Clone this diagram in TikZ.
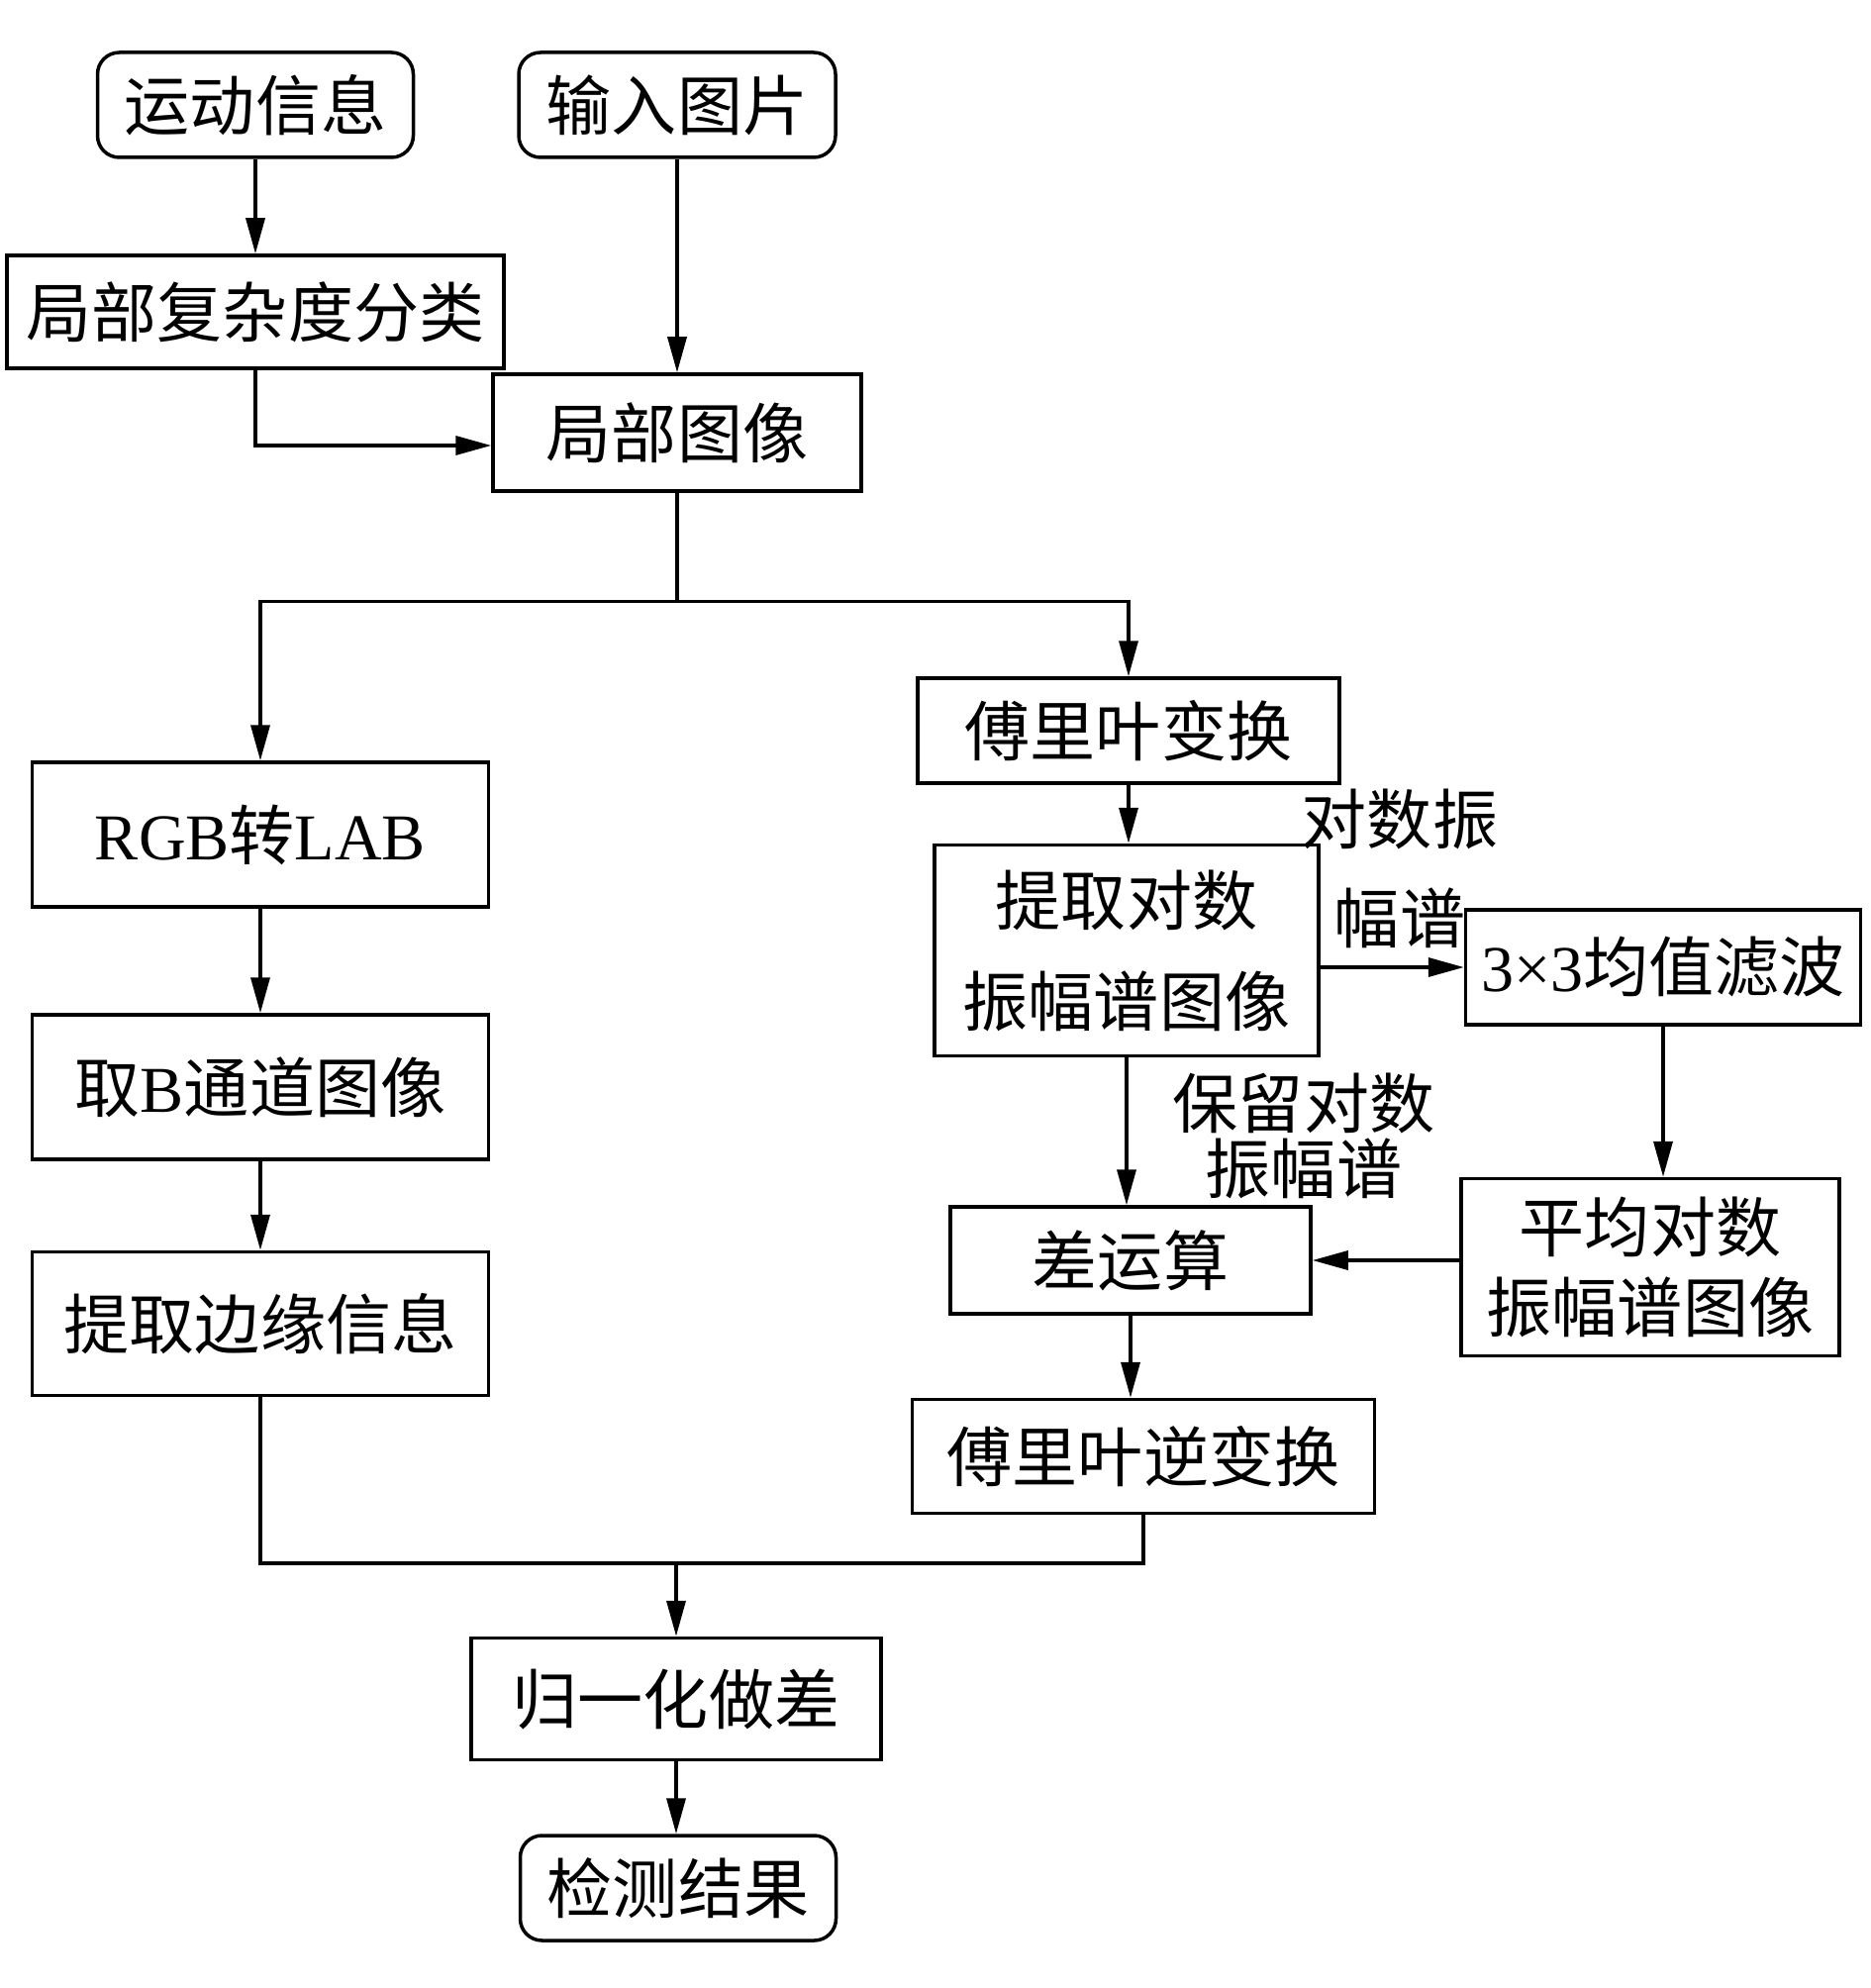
\documentclass[tikz,border=0pt]{standalone}
\usepackage{fontspec}
\setmainfont{Liberation Serif}
\newfontfamily\cjk{Noto Sans CJK SC}
\usetikzlibrary{arrows.meta,calc}

\begin{document}
\begin{tikzpicture}[x=0.1mm,y=-0.1mm,line width=0.35mm,
        box/.style={draw,inner sep=0pt,align=center,font=\fontsize{18.8pt}{29pt}\selectfont\cjk},
        term/.style={box,rounded corners=2.2mm},
        lbl/.style={inner sep=0pt,align=center,font=\fontsize{18.8pt}{28.5pt}\selectfont\cjk},
        arr/.style={-{Triangle[length=3.6mm,width=1.9mm]}}]
    \useasboundingbox (0,0) rectangle (1890,2008);
    \node[term,minimum width=31.9mm,minimum height=10.6mm] (motion) at (258,106) {运动信息};
    \node[term,minimum width=32mm,minimum height=10.6mm] (input) at (684,106) {输入图片};
    \node[box,minimum width=50.2mm,minimum height=11.4mm] (classify) at (258,315) {局部复杂度分类};
    \node[box,minimum width=37.2mm,minimum height=11.8mm] (local) at (684,437) {局部图像};
    \node[box,minimum width=46.1mm,minimum height=14.6mm] (rgb) at (263,843) {\rmfamily RGB{\cjk 转}LAB};
    \node[box,minimum width=46.1mm,minimum height=14.6mm] (chanb) at (263,1098) {取{\rmfamily B}通道图像};
    \node[box,minimum width=46.1mm,minimum height=14.5mm] (edge) at (263,1337) {提取边缘信息};
    \node[box,minimum width=42.6mm,minimum height=10.6mm] (fourier) at (1140,738) {傅里叶变换};
    \node[box,minimum width=38.8mm,minimum height=21.3mm] (logamp) at (1138,960) {提取对数\\振幅谱图像};
    \node[box,minimum width=39.9mm,minimum height=11.6mm] (filter) at (1680,977) {\rmfamily 3×3{\cjk 均值滤波}};
    \node[box,minimum width=38.2mm,minimum height=17.9mm,font=\fontsize{18.8pt}{23pt}\selectfont\cjk] (mean) at (1667,1280) {平均对数\\振幅谱图像};
    \node[box,minimum width=36.4mm,minimum height=10.8mm] (diff) at (1142,1273) {差运算};
    \node[box,minimum width=46.7mm,minimum height=11.5mm] (inverse) at (1155,1471) {傅里叶逆变换};
    \node[box,minimum width=41.4mm,minimum height=12.3mm] (norm) at (683,1716) {归一化做差};
    \node[term,minimum width=31.9mm,minimum height=10.6mm] (result) at (685,1907) {检测结果};
    \node[lbl] (lblamp) at (1414,877) {对数振\\幅谱};
    \node[lbl,font=\fontsize{18.8pt}{18.8pt}\selectfont\cjk] (lblkeep) at (1317,1147) {保留对数\\振幅谱};
    \coordinate (split) at ($(local.south)+(0,110)$);
    \coordinate (merge) at (683,1579);
    \draw[arr] (motion.south) -- (classify.north);
    \draw[arr] (input.south) -- (local.north);
    \draw[arr] (classify.south) |- ($(local.west)+(0,13)$);
    \draw (local.south) -- (split);
    \draw[arr] (split) -| (rgb.north);
    \draw[arr] (split) -| (fourier.north);
    \draw[arr] (rgb) -- (chanb);
    \draw[arr] (chanb) -- (edge);
    \draw[arr] (fourier.south) -- (fourier.south |- logamp.north);
    \draw[arr] (logamp.east |- filter.west) -- (filter.west);
    \draw[arr] (filter.south) -- (filter.south |- mean.north);
    \draw[arr] (logamp.south) -- (logamp.south |- diff.north);
    \draw[arr] (diff.east -| mean.west) -- (diff.east);
    \draw[arr] (diff.south) -- (diff.south |- inverse.north);
    \draw (edge.south) |- (merge) -| (inverse.south);
    \draw[arr] (merge) -- (norm.north);
    \draw[arr] (norm.south) -- (norm.south |- result.north);
\end{tikzpicture}
\end{document}
